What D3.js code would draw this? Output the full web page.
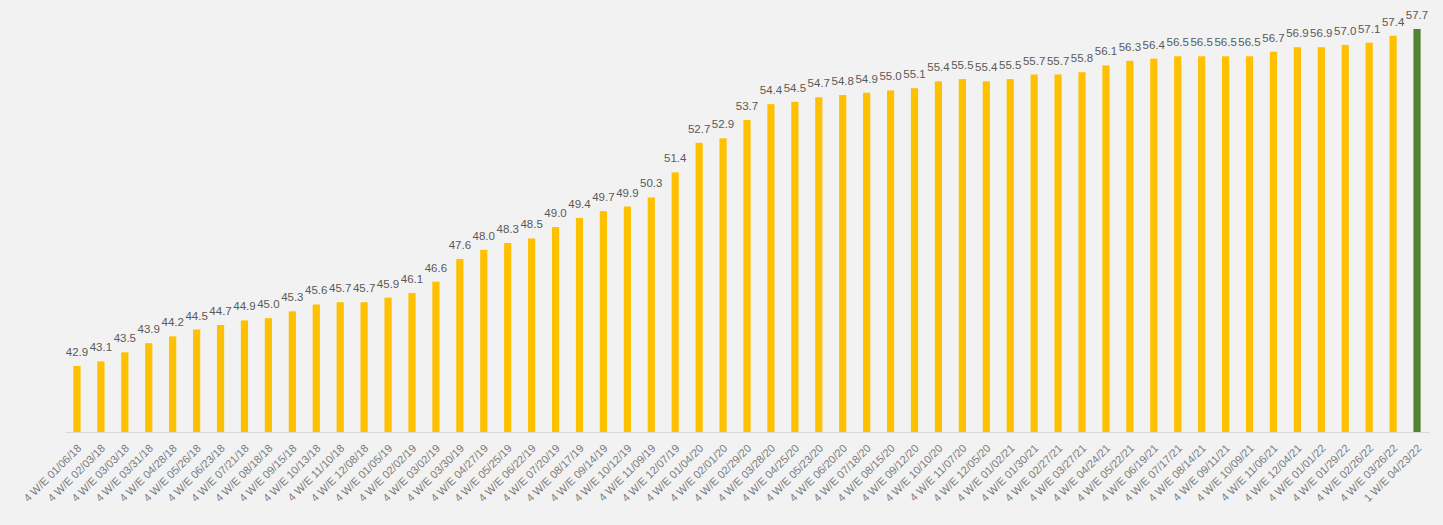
<!DOCTYPE html>
<html>
<head>
<meta charset="utf-8">
<script src="https://cdn.jsdelivr.net/npm/d3@7"></script>
<style>
  html, body { margin: 0; padding: 0; background: #f2f2f2; }
  svg { display: block; }
</style>
</head>
<body>
<div id="chart"></div>
<script>
// Four-week periods (last one is a single week)
const periods = [
  "4 W/E 01/06/18","4 W/E 02/03/18","4 W/E 03/03/18","4 W/E 03/31/18","4 W/E 04/28/18",
  "4 W/E 05/26/18","4 W/E 06/23/18","4 W/E 07/21/18","4 W/E 08/18/18","4 W/E 09/15/18",
  "4 W/E 10/13/18","4 W/E 11/10/18","4 W/E 12/08/18","4 W/E 01/05/19","4 W/E 02/02/19",
  "4 W/E 03/02/19","4 W/E 03/30/19","4 W/E 04/27/19","4 W/E 05/25/19","4 W/E 06/22/19",
  "4 W/E 07/20/19","4 W/E 08/17/19","4 W/E 09/14/19","4 W/E 10/12/19","4 W/E 11/09/19",
  "4 W/E 12/07/19","4 W/E 01/04/20","4 W/E 02/01/20","4 W/E 02/29/20","4 W/E 03/28/20",
  "4 W/E 04/25/20","4 W/E 05/23/20","4 W/E 06/20/20","4 W/E 07/18/20","4 W/E 08/15/20",
  "4 W/E 09/12/20","4 W/E 10/10/20","4 W/E 11/07/20","4 W/E 12/05/20","4 W/E 01/02/21",
  "4 W/E 01/30/21","4 W/E 02/27/21","4 W/E 03/27/21","4 W/E 04/24/21","4 W/E 05/22/21",
  "4 W/E 06/19/21","4 W/E 07/17/21","4 W/E 08/14/21","4 W/E 09/11/21","4 W/E 10/09/21",
  "4 W/E 11/06/21","4 W/E 12/04/21","4 W/E 01/01/22","4 W/E 01/29/22","4 W/E 02/26/22",
  "4 W/E 03/26/22","1 W/E 04/23/22"
];

const values = [
  42.9,43.1,43.5,43.9,44.2,44.5,44.7,44.9,45.0,45.3,
  45.6,45.7,45.7,45.9,46.1,46.6,47.6,48.0,48.3,48.5,
  49.0,49.4,49.7,49.9,50.3,51.4,52.7,52.9,53.7,54.4,
  54.5,54.7,54.8,54.9,55.0,55.1,55.4,55.5,55.4,55.5,
  55.7,55.7,55.8,56.1,56.3,56.4,56.5,56.5,56.5,56.5,
  56.7,56.9,56.9,57.0,57.1,57.4,57.7
];

const yDomain = [40, 60];

const W = 1443, H = 525;
const baseY = 432;
const barColor = "#FFC000";
const latestColor = "#548235";

const svg = d3.select("#chart").append("svg")
  .attr("width", W).attr("height", H);

svg.append("rect").attr("width", W).attr("height", H).attr("fill", "#f2f2f2");

const x = d3.scaleBand()
  .domain(periods)
  .range([65, 1429])
  .paddingInner(0.7)
  .paddingOuter(0.35);

const y = d3.scaleLinear().domain(yDomain).range([baseY, baseY - 20 * 22.77]);

const data = periods.map((p, i) => ({ p, v: values[i], last: i === periods.length - 1 }));

// bars
svg.append("g").selectAll("rect")
  .data(data)
  .join("rect")
  .attr("x", d => x(d.p))
  .attr("y", d => y(d.v))
  .attr("width", x.bandwidth())
  .attr("height", d => baseY - y(d.v))
  .attr("fill", d => d.last ? latestColor : barColor);

// value labels
svg.append("g").selectAll("text")
  .data(data)
  .join("text")
  .attr("x", d => x(d.p) + x.bandwidth() / 2)
  .attr("y", d => y(d.v) - 10)
  .attr("text-anchor", "middle")
  .attr("font-family", "Liberation Sans, Arial, sans-serif")
  .attr("font-size", 11.5)
  .attr("fill", "#595959")
  .text(d => d.v.toFixed(1));

// category axis
const axis = svg.append("g")
  .attr("transform", `translate(0,${baseY})`)
  .call(d3.axisBottom(x).tickSize(0).tickPadding(0));

axis.select(".domain").attr("stroke", "#d9d9d9").attr("stroke-width", 1);

axis.selectAll(".tick text")
  .attr("font-family", "Liberation Sans, Arial, sans-serif")
  .attr("font-size", 11)
  .attr("fill", "#7a7a7a")
  .attr("text-anchor", "end")
  .attr("dy", 0)
  .attr("transform", "translate(5,17) rotate(-45)");
</script>
</body>
</html>
